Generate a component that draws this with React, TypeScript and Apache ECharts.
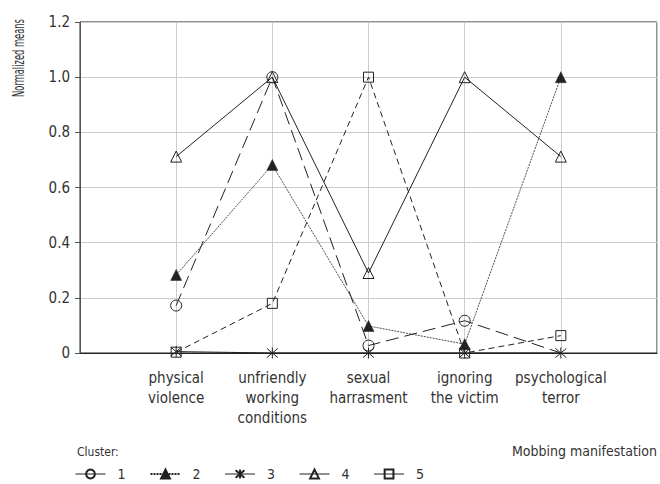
import React, { useEffect, useRef } from "react";
import * as echarts from "echarts";

const categories = [
  "physical\nviolence",
  "unfriendly\nworking\nconditions",
  "sexual\nharrasment",
  "ignoring\nthe victim",
  "psychological\nterror",
];
const seriesNames = ["1", "2", "3", "4", "5"];
const cluster1 = [0.172, 1.0, 0.027, 0.117, 0.0];
const cluster2 = [0.283, 0.682, 0.098, 0.032, 1.0];
const cluster3 = [0.005, 0.0, 0.0, 0.0, 0.0];
const cluster4 = [0.712, 1.0, 0.29, 1.0, 0.712];
const cluster5 = [0.003, 0.18, 1.0, 0.0, 0.063];
// points whose marker is hidden behind others in the reference
const hiddenMarks1 = [false, false, false, false, true];

const FONT = "'Liberation Sans Narrow', 'DejaVu Sans Condensed', 'Roboto', sans-serif";
const INK = "#222";
const TEXT = "#333";

const asterisk = "path://M0,0L10,10M10,0L0,10M5,-1L5,11";

export default function App() {
  const ref = useRef<HTMLDivElement>(null);
  useEffect(() => {
    if (!ref.current) return;
    const chart = echarts.init(ref.current, undefined, { renderer: "svg" });
    const toPts = (arr: number[], hidden?: boolean[]) =>
      arr.map((v, i) => (hidden && hidden[i] ? { value: [i + 1, v], symbol: "none" } : [i + 1, v]));
    const base = (name: string, data: any[], symbol: string, size: number, dash: any, width = 1) => ({
      name,
      type: "line",
      data,
      symbol,
      symbolSize: size,
      showAllSymbol: true,
      lineStyle: { color: INK, width, type: dash },
      itemStyle: { color: "rgba(255,255,255,0)", borderColor: INK, borderWidth: 1 },
      emphasis: { disabled: true },
    });
    const s2: any = base(seriesNames[1], toPts(cluster2), "triangle", 11, [2, 1], 0.8);
    s2.itemStyle = { color: INK, borderColor: INK, borderWidth: 0.5 };
    const s3: any = base(seriesNames[2], toPts(cluster3), asterisk, 11, "solid");
    s3.itemStyle = { color: "none", borderColor: INK, borderWidth: 1 };
    chart.setOption({
      animation: false,
      grid: {
        left: 80,
        right: 3,
        top: 22,
        bottom: 131,
        show: true,
        borderColor: INK,
        borderWidth: 1,
        backgroundColor: "transparent",
      },
      xAxis: {
        type: "value",
        min: 0,
        max: 6,
        interval: 1,
        axisLine: { show: true, lineStyle: { color: INK, width: 1 } },
        axisTick: { show: false },
        splitLine: { show: true, lineStyle: { color: "#ccc", width: 1 } },
        axisLabel: {
          formatter: (v: number) => (v >= 1 && v <= 5 ? categories[v - 1] : ""),
          fontFamily: FONT,
          fontSize: 15,
          lineHeight: 20,
          color: TEXT,
          margin: 15,
          verticalAlign: "top",
        },
      },
      yAxis: {
        type: "value",
        min: 0,
        max: 1.2,
        interval: 0.2,
        axisLine: { show: true, lineStyle: { color: "#555", width: 1 } },
        axisTick: { show: true, length: 5, lineStyle: { color: "#555" } },
        splitLine: { show: true, lineStyle: { color: "#ccc", width: 1 } },
        axisLabel: {
          formatter: (v: number) => (v === 0 ? "0" : v.toFixed(1)),
          fontFamily: FONT,
          fontSize: 15,
          color: TEXT,
          margin: 10,
        },
      },
      legend: {
        data: seriesNames.map((n) =>
          n === "2" ? { name: n } : { name: n, lineStyle: { type: "solid", width: 1 } }
        ),
        left: 75,
        top: 467,
        padding: 0,
        itemWidth: 30,
        itemHeight: 11,
        itemGap: 24,
        textStyle: { fontFamily: FONT, fontSize: 14, color: TEXT, padding: [0, 0, 0, 7] },
        selectedMode: false,
      },
      graphic: [
        {
          type: "text",
          x: 18,
          y: 58,
          rotation: Math.PI / 2,
          scaleX: 0.58,
          style: {
            text: "Normalized means",
            font: `16px ${FONT}`,
            fill: TEXT,
            align: "center",
            verticalAlign: "middle",
          },
        },
        {
          type: "text",
          right: 3,
          top: 444,
          style: { text: "Mobbing manifestation", font: `14px ${FONT}`, fill: TEXT },
        },
        {
          type: "text",
          left: 77,
          top: 446,
          style: { text: "Cluster:", font: `12px ${FONT}`, fill: TEXT },
        },
      ],
      series: [
        base(seriesNames[0], toPts(cluster1, hiddenMarks1), "circle", 11, [13, 6]),
        s2,
        s3,
        base(seriesNames[3], toPts(cluster4), "triangle", 11, "solid"),
        base(seriesNames[4], toPts(cluster5), "rect", 10, [6, 4]),
      ],
    });
    return () => chart.dispose();
  }, []);
  return <div ref={ref} style={{ width: 660, height: 484, position: "absolute", left: 0, top: 0 }} />;
}
